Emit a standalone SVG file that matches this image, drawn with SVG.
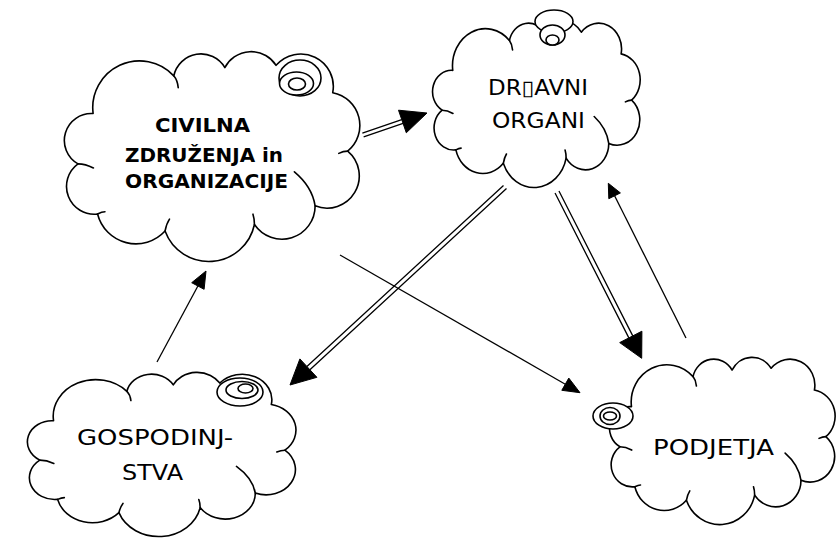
<svg xmlns="http://www.w3.org/2000/svg" xmlns:xlink="http://www.w3.org/1999/xlink" width="837" height="538" viewBox="0 0 837 538">
<style>
.cl{fill:#fff;stroke:#000;stroke-width:1.6;vector-effect:non-scaling-stroke;stroke-linejoin:round}
.hk{fill:none;stroke:#000;stroke-width:1.6;vector-effect:non-scaling-stroke;stroke-linecap:round}
.bb{fill:#fff;stroke:#000;stroke-width:1.6}
.t{font-family:"DejaVu Sans","Liberation Sans",sans-serif;font-size:21px;fill:#000;text-anchor:middle}
.b{font-weight:bold;font-size:20px}
.ln{stroke:#000;stroke-width:1.3;fill:none}
.ah{fill:#000;stroke:#000;stroke-width:1;stroke-linejoin:miter}
</style>
<defs>
<g id="cloud">
<path class="cl" d="M19,39.6 A31.6,31.6 0 0 1 73.5,14.1 A18.75,18.75 0 0 1 108,8.5 A20,20 0 0 1 142.6,7 A22,22 0 0 1 180.9,25.5 A22.5,22.5 0 0 1 191,65 A21.8,21.8 0 0 1 169,102 A22.4,22.4 0 0 1 128,114.6 A31.5,31.5 0 0 1 67.6,119 A26.7,26.7 0 0 1 22,107.5 A18.8,18.8 0 0 1 8.8,73.6 A18.2,18.2 0 0 1 19,39.6 Z"/>
<path class="hk" d="M73.5,14.1 q2.5,3 3,8 M191,65 q-3,0 -6,1.5 M169,102 Q167,89 155,79 M128,114.6 q0,-4 -1,-7 M67.6,119 q1,-5 3,-8 M22,107.5 q3,-1.5 5,-1.5 M8.8,73.6 q5,0 10.4,2.8"/>
</g>
</defs>

<g id="civilna">
<use xlink:href="#cloud" transform="translate(65,55) scale(1.48,1.479)"/>
<ellipse class="bb" cx="300" cy="78" rx="21" ry="18"/>
<ellipse class="bb" cx="296.5" cy="83.5" rx="17" ry="11.5"/>
<ellipse class="bb" cx="297" cy="84" rx="8.5" ry="6"/>
<text class="t b" x="202.5" y="132" textLength="95" lengthAdjust="spacingAndGlyphs">CIVILNA</text>
<text class="t b" x="204" y="161.5" textLength="158" lengthAdjust="spacingAndGlyphs">ZDRUŽENJA in</text>
<text class="t b" x="206.5" y="188" textLength="163" lengthAdjust="spacingAndGlyphs">ORGANIZACIJE</text>
</g>

<g id="drzavni">
<use xlink:href="#cloud" transform="translate(433,24) scale(1.04,1.171)"/>
<ellipse class="bb" cx="554" cy="21.5" rx="19" ry="11.5"/>
<ellipse class="bb" cx="552.5" cy="35" rx="12.5" ry="10"/>
<ellipse class="bb" cx="552.5" cy="40" rx="6.5" ry="5"/>
<text class="t" x="538" y="95" textLength="100" lengthAdjust="spacingAndGlyphs">DR▯AVNI</text>
<text class="t" x="538.5" y="128" textLength="93" lengthAdjust="spacingAndGlyphs">ORGANI</text>
</g>

<g id="gospodinjstva">
<use xlink:href="#cloud" transform="translate(28,375) scale(1.345,1.157)"/>
<ellipse class="bb" cx="240" cy="392" rx="23" ry="14"/>
<ellipse class="bb" cx="242" cy="390" rx="16" ry="8.5"/>
<ellipse class="bb" cx="245.5" cy="388.5" rx="7.5" ry="4.5"/>
<text class="t" x="155" y="445" textLength="156" lengthAdjust="spacingAndGlyphs">GOSPODINJ-</text>
<text class="t" x="152.5" y="480" textLength="61" lengthAdjust="spacingAndGlyphs">STVA</text>
</g>

<g id="podjetja">
<use xlink:href="#cloud" transform="translate(610,360) scale(1.13,1.179)"/>
<ellipse class="bb" cx="613" cy="416" rx="20" ry="13"/>
<ellipse class="bb" cx="610" cy="416" rx="10" ry="8.5"/>
<ellipse class="bb" cx="610" cy="416" rx="6.5" ry="4"/>
<text class="t" x="713.5" y="455" textLength="121" lengthAdjust="spacingAndGlyphs">PODJETJA</text>
</g>

<g id="connectors">
<path class="ln" d="M363.65,136.9 L403.05,123.4 M362.35,133.1 L401.75,119.6"/>
<polygon class="ah" points="427,113 406.3,132.8 398.5,110.2"/>
<path class="ln" d="M506.5,188.6 L309.9,369.7 M503.5,185.4 L306.9,366.5"/>
<polygon class="ah" points="290,385 316.9,377.3 299.9,358.9"/>
<path class="ln" d="M555.04,193 L628.84,337.9 M558.96,191 L632.76,335.9"/>
<polygon class="ah" points="641.7,358.3 619.7,342.6 641.9,331.2"/>
<path class="ln" d="M686,338 L614.6,195.8"/>
<polygon class="ah" points="608.3,183.3 620.4,192.9 608.8,198.7"/>
<path class="ln" d="M340,255 L565.3,384.2"/>
<polygon class="ah" points="580,392.7 561.8,390.3 568.8,378.1"/>
<path class="ln" d="M157,362 L197.9,286"/>
<polygon class="ah" points="206,271 204.1,289.3 191.7,282.7"/>
</g>
</svg>
